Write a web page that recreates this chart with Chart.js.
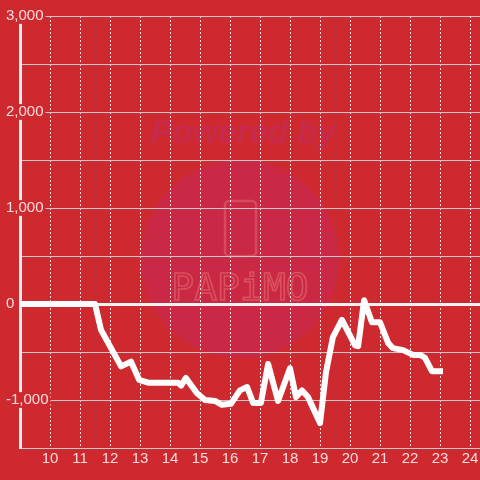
<!DOCTYPE html>
<html>
<head>
<meta charset="utf-8">
<script src="https://cdn.jsdelivr.net/npm/chart.js@4"></script>
<style>
  html, body { margin: 0; padding: 0; background: #cd292e; }
  #wrap { width: 480px; height: 480px; }
</style>
</head>
<body>
<div id="wrap"><canvas id="netChart"></canvas></div>
<script>
  // hour of day for every vertex of the line
  const HOURS = [
    9, 11.5, 11.7, 12.37, 12.7, 12.97, 13.27, 14.27, 14.37, 14.53,
    14.9, 15.17, 15.5, 15.73, 16.03, 16.33, 16.57, 16.77, 17.03, 17.27,
    17.6, 18.0, 18.2, 18.4, 18.6, 19.0, 19.2, 19.43, 19.73, 20.17,
    20.27, 20.47, 20.73, 21.0, 21.27, 21.43, 21.77, 22.1, 22.33, 22.5,
    22.73, 23.0
  ];
  // net value at each of those hours
  const NET = [
    0, 0, -270, -650, -600, -790, -820, -820, -850, -770,
    -930, -1000, -1010, -1050, -1040, -900, -865, -1030, -1030, -625,
    -1010, -670, -970, -900, -970, -1240, -710, -345, -165, -430,
    -440, 40, -190, -190, -405, -460, -480, -530, -530, -560,
    -700, -700
  ];
  const Y_TICK_STEP = 500;
  const Y_LABEL_STEP = 1000;

  const BG = "#cd292e";
  const GRID = "#c9c9c9";
  const FONT = "'Liberation Sans', Arial, sans-serif";

  const watermarkPlugin = {
    id: "watermark",
    beforeDraw(chart) {
      const ctx = chart.ctx;
      ctx.save();
      ctx.fillStyle = BG;
      ctx.fillRect(0, 0, chart.width, chart.height);

      ctx.fillStyle = "#cb2846";
      ctx.beginPath();
      ctx.arc(240, 259, 99, 0, Math.PI * 2);
      ctx.fill();

      ctx.fillStyle = "#c82a4c";
      ctx.font = "italic bold 33px " + FONT;
      ctx.textAlign = "center";
      ctx.textBaseline = "middle";
      ctx.fillText("Powered by", 243, 134);

      // phone outline
      ctx.strokeStyle = "#d54a5c";
      ctx.lineWidth = 2.5;
      ctx.beginPath();
      ctx.roundRect(225, 201, 31, 55, 4);
      ctx.stroke();

      ctx.strokeStyle = "#d9525e";
      ctx.lineWidth = 1.6;
      ctx.font = "38px 'DejaVu Sans Mono', monospace";
      ctx.strokeText("PAPiMO", 240, 290);
      ctx.restore();
    }
  };

  new Chart(document.getElementById("netChart"), {
    type: "line",
    data: {
      datasets: [{
        data: HOURS.map((h, i) => ({ x: h, y: NET[i] })),
        borderColor: "#ffffff",
        borderWidth: 6,
        borderCapStyle: "square",
        borderJoinStyle: "round",
        pointRadius: 0,
        tension: 0,
        fill: false
      }]
    },
    options: {
      responsive: true,
      maintainAspectRatio: false,
      animation: false,
      layout: { padding: { left: 20, top: 16, right: 0, bottom: 9.5 } },
      plugins: { legend: { display: false }, tooltip: { enabled: false } },
      scales: {
        x: {
          type: "linear",
          min: 9,
          max: 24.333,
          grid: {
            drawTicks: false,
            color: "rgba(255,255,255,0.85)",
            lineWidth: 1
          },
          border: { display: true, color: GRID, width: 1, dash: [2, 2] },
          ticks: {
            stepSize: 1,
            includeBounds: false,
            padding: 0,
            color: "rgba(255,240,240,0.9)",
            font: { family: FONT, size: 15, lineHeight: 1.5 },
            callback: (v) => (v === 9 ? "" : String(v))
          }
        },
        y: {
          min: -1500,
          max: 3000,
          afterFit(scale) { scale.width = 0; },
          grid: {
            drawTicks: false,
            color: (c) => (c.tick && c.tick.value === 0 ? "#f2f2f2" : GRID),
            lineWidth: (c) => (c.tick && c.tick.value === 0 ? 3 : 1)
          },
          border: { display: true, color: "#eeeeee", width: 3 },
          ticks: {
            stepSize: Y_TICK_STEP,
            mirror: true,
            crossAlign: "near",
            padding: -14,
            showLabelBackdrop: true,
            backdropColor: BG,
            backdropPadding: { left: 0, right: 2, top: 0, bottom: 0 },
            color: "rgba(255,240,240,0.9)",
            font: { family: FONT, size: 15, lineHeight: 1.05 },
            callback: (v) => (v % Y_LABEL_STEP === 0 ? v.toLocaleString("en-US") : "")
          }
        }
      }
    },
    plugins: [watermarkPlugin]
  });
</script>
</body>
</html>
